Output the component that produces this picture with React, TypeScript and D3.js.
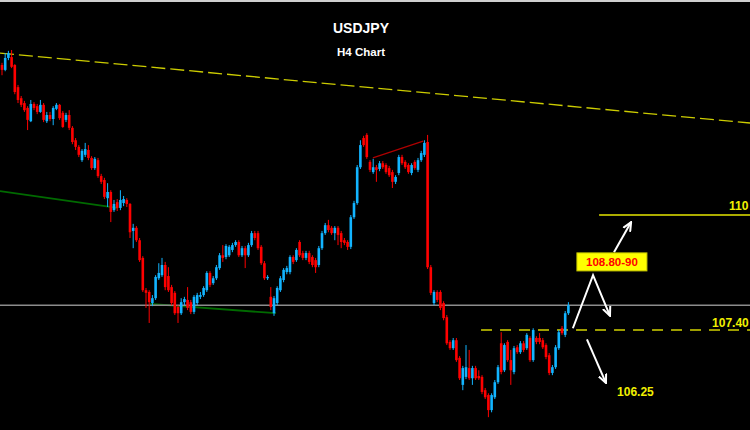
import React from "react";
import * as d3 from "d3";

// [open, high, low, close] for each H4 candle, left to right
const ohlc: [number, number, number, number][] = [
  [113.39, 113.44, 113.16, 113.28], [113.28, 113.66, 113.25, 113.55], [113.55, 113.71, 113.50, 113.66], [113.57, 113.73, 113.32, 113.35],
  [113.39, 113.41, 112.73, 112.78], [112.89, 112.94, 112.53, 112.60], [112.64, 112.69, 112.44, 112.49], [112.53, 112.58, 112.33, 112.37],
  [112.42, 112.46, 111.92, 112.15], [112.12, 112.60, 112.10, 112.51], [112.51, 112.55, 112.37, 112.42], [112.46, 112.51, 112.28, 112.33],
  [112.33, 112.60, 112.31, 112.49], [112.49, 112.53, 112.10, 112.15], [112.12, 112.33, 112.08, 112.26], [112.26, 112.33, 112.12, 112.17],
  [112.17, 112.46, 112.03, 112.42], [112.40, 112.53, 112.37, 112.49], [112.49, 112.51, 112.15, 112.19], [112.31, 112.35, 111.97, 111.99],
  [112.15, 112.31, 112.10, 112.26], [112.26, 112.37, 111.92, 111.97], [111.97, 112.01, 111.60, 111.65], [111.69, 111.74, 111.47, 111.54],
  [111.54, 111.58, 111.31, 111.36], [111.24, 111.49, 111.20, 111.45], [111.36, 111.63, 111.31, 111.49], [111.47, 111.58, 111.24, 111.29],
  [111.29, 111.33, 111.02, 111.06], [111.06, 111.31, 111.02, 111.27], [111.24, 111.29, 110.84, 110.88], [110.88, 110.93, 110.70, 110.75],
  [110.79, 110.84, 110.36, 110.41], [110.38, 110.72, 110.18, 110.52], [110.52, 110.56, 109.84, 110.07], [110.11, 110.34, 110.07, 110.25],
  [110.29, 110.36, 110.09, 110.16], [110.16, 110.56, 110.11, 110.34], [110.27, 110.43, 110.20, 110.36], [110.34, 110.38, 110.18, 110.25],
  [110.25, 110.27, 109.48, 109.61], [109.64, 109.80, 109.25, 109.71], [109.71, 109.75, 109.39, 109.43], [109.43, 109.48, 108.94, 108.98],
  [109.03, 109.07, 108.26, 108.30], [108.30, 108.35, 107.90, 108.24], [108.26, 108.30, 107.56, 108.03], [108.01, 108.19, 107.94, 108.12],
  [108.12, 108.64, 108.08, 108.60], [108.57, 108.91, 108.53, 108.69], [108.64, 109.03, 108.60, 108.87], [108.87, 108.94, 108.30, 108.37],
  [108.62, 108.82, 108.26, 108.30], [108.37, 108.42, 107.96, 108.01], [108.24, 108.28, 107.74, 107.78], [107.92, 107.96, 107.56, 107.78],
  [107.78, 108.12, 107.74, 108.03], [108.03, 108.15, 107.96, 108.10], [108.08, 108.37, 107.85, 107.90], [108.03, 108.08, 107.76, 107.81],
  [107.81, 108.19, 107.76, 108.15], [108.01, 108.24, 107.96, 108.19], [108.15, 108.26, 108.10, 108.19], [108.19, 108.39, 108.15, 108.35],
  [108.30, 108.73, 108.26, 108.69], [108.69, 108.73, 108.37, 108.42], [108.46, 108.62, 108.42, 108.57], [108.57, 108.87, 108.53, 108.82],
  [108.80, 109.14, 108.76, 109.09], [109.09, 109.32, 108.94, 109.03], [109.05, 109.34, 109.00, 109.30], [109.09, 109.32, 109.05, 109.28],
  [109.21, 109.37, 109.16, 109.32], [109.32, 109.43, 109.28, 109.39], [109.39, 109.43, 109.05, 109.09], [109.09, 109.30, 109.05, 109.25],
  [109.25, 109.30, 108.80, 109.09], [109.09, 109.37, 109.05, 109.32], [109.32, 109.64, 109.28, 109.59], [109.59, 109.64, 109.43, 109.48],
  [109.59, 109.64, 109.21, 109.25], [109.28, 109.32, 108.87, 108.91], [108.91, 108.96, 108.53, 108.57], [108.57, 108.64, 108.53, 108.60],
  [108.15, 108.37, 107.85, 107.92], [107.78, 108.17, 107.72, 108.12], [108.01, 108.39, 107.96, 108.35], [108.30, 108.62, 108.26, 108.57],
  [108.53, 108.80, 108.48, 108.76], [108.71, 108.85, 108.66, 108.80], [108.71, 109.09, 108.66, 109.05], [109.05, 109.09, 108.89, 108.94],
  [108.98, 109.25, 108.94, 109.21], [109.39, 109.43, 109.05, 109.09], [109.14, 109.19, 108.98, 109.03], [109.03, 109.19, 108.98, 109.14],
  [109.14, 109.19, 108.89, 108.94], [109.05, 109.09, 108.82, 108.87], [108.98, 109.03, 108.69, 108.82], [108.87, 109.30, 108.82, 109.25],
  [109.25, 109.64, 109.21, 109.59], [109.59, 109.82, 109.55, 109.77], [109.77, 109.89, 109.61, 109.66], [109.71, 109.75, 109.55, 109.59],
  [109.59, 109.75, 109.43, 109.71], [109.71, 109.75, 109.32, 109.55], [109.59, 109.64, 109.25, 109.39], [109.43, 109.48, 109.32, 109.37],
  [109.39, 109.43, 109.21, 109.28], [109.28, 110.00, 109.23, 109.95], [109.95, 110.32, 109.91, 110.27], [110.27, 111.13, 110.23, 111.08],
  [111.08, 111.69, 111.04, 111.58], [111.74, 111.79, 111.54, 111.58], [111.81, 111.85, 111.27, 111.31], [111.20, 111.24, 110.97, 111.02],
  [110.97, 111.27, 110.93, 111.08], [111.08, 111.13, 110.75, 111.02], [111.04, 111.22, 110.99, 111.17], [111.17, 111.22, 111.04, 111.08],
  [111.13, 111.17, 110.93, 110.97], [111.06, 111.11, 110.86, 110.90], [110.97, 111.02, 110.61, 110.75], [110.75, 110.90, 110.70, 110.86],
  [110.95, 111.36, 110.90, 111.31], [111.31, 111.36, 111.13, 111.17], [111.20, 111.24, 111.04, 111.08], [111.13, 111.17, 110.93, 110.97],
  [110.95, 111.17, 110.90, 111.13], [111.20, 111.24, 111.02, 111.06], [111.02, 111.29, 110.97, 111.24], [111.24, 111.45, 111.20, 111.40],
  [111.36, 111.69, 111.31, 111.63], [111.65, 111.81, 108.78, 108.82], [108.82, 108.87, 108.19, 108.24], [108.01, 108.30, 107.96, 108.26],
  [108.26, 108.30, 108.03, 108.08], [108.26, 108.30, 107.85, 107.90], [108.01, 108.05, 107.62, 107.67], [107.69, 107.74, 107.06, 107.10],
  [107.13, 107.17, 106.95, 106.99], [106.99, 107.22, 106.95, 107.17], [107.17, 107.22, 106.68, 106.72], [106.77, 106.81, 106.27, 106.31],
  [106.16, 106.59, 106.04, 106.54], [106.34, 107.06, 106.29, 106.56], [106.54, 106.95, 106.27, 106.31], [106.31, 106.59, 106.16, 106.54],
  [106.54, 106.59, 106.27, 106.31], [106.36, 106.49, 106.27, 106.31], [106.34, 106.38, 105.95, 106.00], [106.04, 106.09, 105.84, 105.88],
  [105.93, 105.97, 105.43, 105.59], [105.59, 105.97, 105.54, 105.93], [105.88, 106.27, 105.84, 106.22], [106.22, 106.61, 106.18, 106.56],
  [107.10, 107.35, 106.40, 106.45], [106.49, 107.10, 106.45, 107.06], [107.13, 107.17, 106.68, 106.72], [106.72, 106.95, 106.16, 106.49],
  [106.45, 107.04, 106.40, 106.99], [107.01, 107.06, 106.86, 106.90], [106.90, 107.15, 106.86, 107.10], [107.10, 107.15, 106.90, 106.95],
  [106.99, 107.33, 106.95, 107.29], [107.22, 107.26, 106.68, 106.72], [106.72, 107.44, 106.68, 107.40], [107.22, 107.26, 107.08, 107.13],
  [107.22, 107.33, 107.08, 107.13], [107.17, 107.22, 106.97, 107.01], [107.06, 107.10, 106.74, 106.79], [106.83, 106.88, 106.38, 106.43],
  [106.43, 106.61, 106.38, 106.56], [106.56, 107.06, 106.52, 107.01], [106.99, 107.40, 106.95, 107.35], [107.44, 107.49, 107.29, 107.33],
  [107.29, 107.83, 107.24, 107.78], [107.78, 108.03, 107.74, 107.96],
];

// trend lines as [barIndex, price] pairs
const yellowTrend: [number, number][] = [[-0.625, 113.66], [233.75, 112.08]];
const greenTrend1: [number, number][] = [[-0.625, 110.54], [36, 110.16]];
const greenTrend2: [number, number][] = [[46.3, 107.99], [85.6, 107.78]];
const redTrend: [number, number][] = [[115.9, 111.29], [131.6, 111.67]];

// horizontal levels
const grayLevel = 107.96;
const supportLevel = 107.4;
const supportStart = 149.7;
const targetLevel = 110.0;
const targetStart = 186.6;

// annotation arrows [barIndex, price]
const arrowV: [number, number][] = [[178.4, 107.44], [184.7, 108.64], [190.0, 107.72]];
const arrowUp: [number, number][] = [[191.25, 109.16], [196.6, 109.84]];
const arrowDown: [number, number][] = [[182.8, 107.19], [188.75, 106.2]];

const boxLabel = "108.80-90";
const boxPos: [number, number] = [190.6, 108.94];
const levelLabels: { text: string; at: [number, number]; dy: number }[] = [
  { text: "110", at: [227.2, 110.0], dy: -5 },
  { text: "107.40", at: [221.9, 107.4], dy: -3 },
  { text: "106.25", at: [192.2, 105.91], dy: 0 },
];

const W = 750;
const H = 430;

export default function App() {
  const x = d3.scaleLinear().domain([-0.625, 233.75]).range([0, W]);
  const y = d3.scaleLinear().domain([105.14, 114.86]).range([H, 0]);
  const line = d3
    .line<[number, number]>()
    .x((d) => x(d[0]))
    .y((d) => y(d[1]));

  const bodyW = 2.6;
  const up = "#12b4ff";
  const down = "#ff0000";

  return (
    <svg
      width={W}
      height={H}
      style={{ position: "fixed", left: 0, top: 0, background: "#000" }}
      fontFamily="Arial, 'Liberation Sans', sans-serif"
    >
      <defs>
        <marker id="ah" viewBox="0 0 10 10" refX="9" refY="5" markerWidth="10" markerHeight="10" markerUnits="userSpaceOnUse" orient="auto">
          <path d="M0,1 L9,5 L0,9" fill="none" stroke="#fff" strokeWidth={2} />
        </marker>
      </defs>
      <rect x={0} y={0} width={W} height={H} fill="#000" />
      <rect x={0} y={0} width={W} height={2} fill="#cfcfcf" />

      <text x={361} y={33} fill="#fff" fontSize={14} fontWeight="bold" textAnchor="middle">USDJPY</text>
      <text x={361} y={56} fill="#fff" fontSize={11.5} fontWeight="bold" textAnchor="middle">H4 Chart</text>

      <path d={line(yellowTrend) ?? ""} stroke="#cccc00" strokeWidth={1.3} strokeDasharray="14 5" fill="none" />
      <path d={line(greenTrend1) ?? ""} stroke="#006a00" strokeWidth={1.8} fill="none" />
      <path d={line(greenTrend2) ?? ""} stroke="#006a00" strokeWidth={1.8} fill="none" />
      <line x1={0} x2={W} y1={y(grayLevel)} y2={y(grayLevel)} stroke="#8c8c8c" strokeWidth={1.5} />
      <line x1={x(supportStart)} x2={W} y1={y(supportLevel)} y2={y(supportLevel)} stroke="#d2d200" strokeWidth={1.3} strokeDasharray="11 8" />
      <line x1={x(targetStart)} x2={W} y1={y(targetLevel)} y2={y(targetLevel)} stroke="#e6e600" strokeWidth={1.6} />

      {ohlc.map((d, i) => {
        const [o, h, l, c] = d;
        const col = c >= o ? up : down;
        const cx = x(i);
        const top = y(Math.max(o, c));
        const bot = y(Math.min(o, c));
        return (
          <g key={i}>
            <line x1={cx} x2={cx} y1={y(h)} y2={y(l)} stroke={col} strokeWidth={1} />
            <rect x={cx - bodyW / 2} y={top} width={bodyW} height={Math.max(1, bot - top)} fill={col} />
          </g>
        );
      })}

      <path d={line(redTrend) ?? ""} stroke="#b00000" strokeWidth={1.2} fill="none" />

      <path d={line(arrowV) ?? ""} stroke="#fff" strokeWidth={2} fill="none" markerEnd="url(#ah)" />
      <path d={line(arrowUp) ?? ""} stroke="#fff" strokeWidth={2} fill="none" markerEnd="url(#ah)" />
      <path d={line(arrowDown) ?? ""} stroke="#fff" strokeWidth={2} fill="none" markerEnd="url(#ah)" />

      <rect x={x(boxPos[0]) - 35} y={y(boxPos[1]) - 9} width={70} height={18} fill="#ffff00" stroke="#c8c800" strokeWidth={1} />
      <text x={x(boxPos[0])} y={y(boxPos[1]) + 4.5} fill="#ff0000" fontSize={11.5} fontWeight="bold" textAnchor="middle">{boxLabel}</text>

      {levelLabels.map((lb) => (
        <text key={lb.text} x={x(lb.at[0])} y={y(lb.at[1]) + lb.dy} fill="#f0f000" fontSize={12} fontWeight="bold">{lb.text}</text>
      ))}
    </svg>
  );
}
